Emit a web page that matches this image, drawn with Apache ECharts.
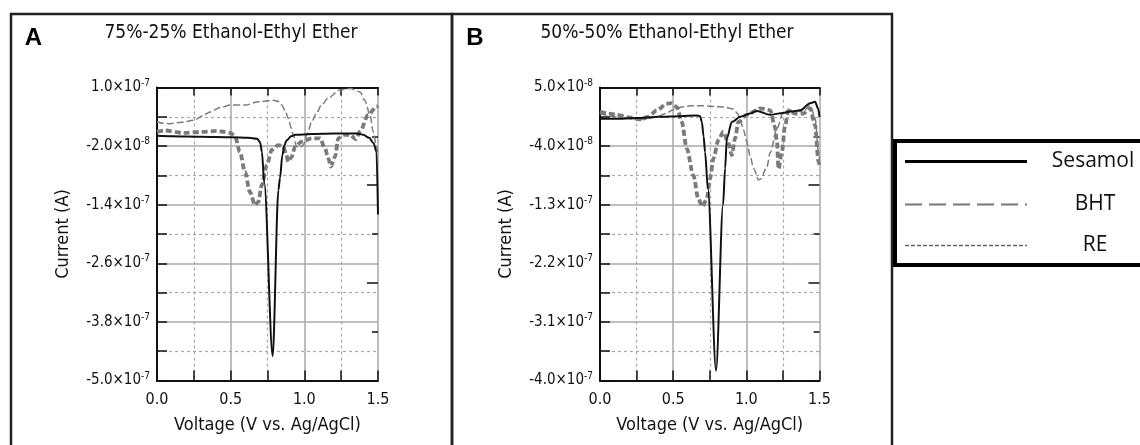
<!DOCTYPE html>
<html><head><meta charset="utf-8">
<script src="https://cdn.jsdelivr.net/npm/echarts@6/dist/echarts.min.js"></script>
<style>html,body{margin:0;padding:0;background:#fff}#c{width:1140px;height:445px}</style>
</head><body><div id="c"></div>
<script>
// ---- data (Voltage V, Current A) ----
const seriesNames = ['Sesamol', 'BHT', 'RE'];
const panelTitles = ['75%-25% Ethanol-Ethyl Ether', '50%-50% Ethanol-Ethyl Ether'];
const panelLetters = ['A', 'B'];
const xTickLabels = ['0.0', '0.5', '1.0', '1.5'];
const yTickLabelsA = ['-5.0×10{s|-7}', '-3.8×10{s|-7}', '-2.6×10{s|-7}', '-1.4×10{s|-7}', '-2.0×10{s|-8}', '1.0×10{s|-7}'];
const yTickLabelsB = ['-4.0×10{s|-7}', '-3.1×10{s|-7}', '-2.2×10{s|-7}', '-1.3×10{s|-7}', '-4.0×10{s|-8}', '5.0×10{s|-8}'];

const sesamolA = [[0,0.1e-8],[0.1,0],[0.3,-0.1e-8],[0.5,-0.2e-8],[0.62,-0.3e-8],[0.68,-0.5e-8],[0.70,-1.2e-8],[0.712,-3.2e-8],[0.728,-9.5e-8],[0.785,-45e-8],[0.824,-11e-8],[0.835,-8.5e-8],[0.851,-3.8e-8],[0.865,-1.8e-8],[0.88,-0.8e-8],[0.91,0],[0.94,0.3e-8],[1.05,0.5e-8],[1.2,0.6e-8],[1.36,0.6e-8],[1.40,0.3e-8],[1.44,-0.3e-8],[1.47,-1.4e-8],[1.49,-3.2e-8],[1.50,-16e-8]];
const bhtA = [[0,3.0e-8],[0.04,2.7e-8],[0.09,2.6e-8],[0.17,2.9e-8],[0.25,3.3e-8],[0.31,4.2e-8],[0.36,5.0e-8],[0.43,5.9e-8],[0.50,6.4e-8],[0.60,6.4e-8],[0.69,7.1e-8],[0.79,7.4e-8],[0.82,7.2e-8],[0.847,6.4e-8],[0.87,5.2e-8],[0.891,3.7e-8],[0.91,1.8e-8],[0.925,0.3e-8],[0.948,-2.1e-8],[0.97,-2.3e-8],[0.993,-1.8e-8],[1.02,0.5e-8],[1.05,3.0e-8],[1.08,4.6e-8],[1.115,6.3e-8],[1.16,7.8e-8],[1.24,9.5e-8],[1.31,9.8e-8],[1.378,9.1e-8],[1.41,7.4e-8],[1.446,4.4e-8],[1.468,0.9e-8],[1.49,-2e-8],[1.5,-4e-8]];
const reA = [[0,0.9e-8],[0.05,1.2e-8],[0.18,0.7e-8],[0.3,0.9e-8],[0.405,1.1e-8],[0.46,0.9e-8],[0.50,0.7e-8],[0.53,-0.1e-8],[0.563,-3.2e-8],[0.597,-7.3e-8],[0.631,-11.4e-8],[0.665,-14.1e-8],[0.688,-13.4e-8],[0.711,-10e-8],[0.745,-5.9e-8],[0.779,-2.8e-8],[0.824,-1.8e-8],[0.857,-2.1e-8],[0.878,-3.8e-8],[0.891,-5.2e-8],[0.914,-4.2e-8],[0.937,-2.1e-8],[0.982,-1.1e-8],[1.05,-0.4e-8],[1.107,-0.4e-8],[1.14,-2.5e-8],[1.163,-4.5e-8],[1.179,-6.2e-8],[1.208,-4.2e-8],[1.231,-0.4e-8],[1.265,0.3e-8],[1.31,0.3e-8],[1.35,-0.6e-8],[1.378,1.0e-8],[1.434,4.4e-8],[1.49,6.1e-8],[1.5,6.3e-8]];

const sesamolB = [[0,0.2e-8],[0.1,0.2e-8],[0.25,0.3e-8],[0.4,0.5e-8],[0.55,0.6e-8],[0.66,0.7e-8],[0.684,0.6e-8],[0.696,-0.3e-8],[0.708,-2.5e-8],[0.718,-4.9e-8],[0.737,-10.5e-8],[0.793,-38.5e-8],[0.841,-13e-8],[0.855,-7.4e-8],[0.867,-2.8e-8],[0.901,-0.3e-8],[0.958,0.5e-8],[1.026,1.0e-8],[1.072,1.4e-8],[1.163,0.8e-8],[1.25,1.1e-8],[1.30,1.3e-8],[1.368,1.5e-8],[1.436,2.6e-8],[1.47,2.8e-8],[1.49,1.8e-8],[1.5,0.5e-8]];
const bhtB = [[0,1.0e-8],[0.08,0.6e-8],[0.16,0.3e-8],[0.30,0.1e-8],[0.39,0.5e-8],[0.45,1.0e-8],[0.50,1.6e-8],[0.56,2.0e-8],[0.62,2.2e-8],[0.70,2.2e-8],[0.775,2.1e-8],[0.843,2.0e-8],[0.912,1.7e-8],[0.94,1.0e-8],[0.958,0.1e-8],[0.98,-1.5e-8],[1.003,-3.3e-8],[1.026,-5.5e-8],[1.049,-7.4e-8],[1.083,-9.2e-8],[1.10,-9.0e-8],[1.14,-7.2e-8],[1.163,-5.0e-8],[1.209,-1.3e-8],[1.254,1.3e-8],[1.30,1.5e-8],[1.39,1.3e-8],[1.436,2.3e-8],[1.47,0.3e-8],[1.493,-4.9e-8],[1.5,-6e-8]];
const reB = [[0,1.3e-8],[0.06,1.0e-8],[0.114,0.8e-8],[0.2,0.4e-8],[0.274,0.1e-8],[0.33,0.5e-8],[0.388,1.5e-8],[0.456,2.5e-8],[0.49,2.6e-8],[0.525,2.0e-8],[0.559,-0.3e-8],[0.593,-4.4e-8],[0.638,-8.5e-8],[0.672,-12.1e-8],[0.70,-13.3e-8],[0.73,-12.1e-8],[0.752,-9.0e-8],[0.775,-5.9e-8],[0.809,-3.1e-8],[0.843,-1.8e-8],[0.878,-3.6e-8],[0.901,-5.4e-8],[0.923,-2.8e-8],[0.946,-0.3e-8],[1.003,0.8e-8],[1.072,1.5e-8],[1.094,1.8e-8],[1.163,1.5e-8],[1.195,-1e-8],[1.209,-3.3e-8],[1.22,-7.5e-8],[1.243,-4.9e-8],[1.265,-0.8e-8],[1.288,1.5e-8],[1.334,1.0e-8],[1.39,1.0e-8],[1.436,1.8e-8],[1.47,-0.8e-8],[1.493,-6.4e-8],[1.5,-7e-8]];

// ---- chart ----
const chart = echarts.init(document.getElementById('c'), null, {renderer: 'canvas'});
const FC = '"DejaVu Sans Condensed", "DejaVu Sans", sans-serif';
const gridColor = '#a8a8a8';

function xAxes(gi) {
  return [{
    gridIndex: gi, type: 'value', position: 'bottom', min: 0, max: 1.5, interval: 0.5,
    axisLine: {show: true, onZero: false, lineStyle: {color: '#111', width: 2}},
    axisTick: {show: true, inside: true, length: 10, lineStyle: {color: '#111', width: 1.5}},
    minorTick: {show: true, splitNumber: 2, length: 10, lineStyle: {color: '#111', width: 1.5}},
    splitLine: {show: true, lineStyle: {color: gridColor, width: 1.5}},
    minorSplitLine: {show: true, lineStyle: {color: gridColor, width: 1.2, type: [3, 3]}},
    axisLabel: {show: true, margin: 11, color: '#111', fontFamily: FC, fontSize: 16,
      formatter: (v, i) => xTickLabels[i]},
    name: 'Voltage (V vs. Ag/AgCl)', nameLocation: 'middle', nameGap: 36,
    nameTextStyle: {color: '#111', fontFamily: FC, fontSize: 18}
  }, {
    gridIndex: gi, type: 'value', position: 'top', min: 0, max: 1.5, interval: 0.5,
    axisLine: {show: true, onZero: false, lineStyle: {color: '#111', width: 2}},
    axisTick: {show: true, inside: true, length: 8, lineStyle: {color: '#111', width: 1.5}},
    minorTick: {show: true, splitNumber: 2, length: 8, lineStyle: {color: '#111', width: 1.5}},
    splitLine: {show: false}, axisLabel: {show: false}
  }];
}
function yAxes(gi, mn, mx, iv, labels) {
  return [{
    gridIndex: gi, type: 'value', position: 'left', min: mn, max: mx, interval: iv,
    axisLine: {show: true, onZero: false, lineStyle: {color: '#111', width: 2}},
    axisTick: {show: true, inside: true, length: 10, lineStyle: {color: '#111', width: 1.5}},
    minorTick: {show: true, splitNumber: 2, length: 10, lineStyle: {color: '#111', width: 1.5}},
    splitLine: {show: true, lineStyle: {color: gridColor, width: 1.5}},
    minorSplitLine: {show: true, lineStyle: {color: gridColor, width: 1.2, type: [3, 3]}},
    axisLabel: {show: true, margin: 7, color: '#111', fontFamily: FC, fontSize: 15,
      formatter: (v, i) => labels[i],
      rich: {s: {fontSize: 10, fontFamily: FC, color: '#111', padding: [0, 0, 9, 0]}}},
    name: 'Current (A)', nameLocation: 'middle', nameGap: 85, nameRotate: 90,
    nameTextStyle: {color: '#111', fontFamily: FC, fontSize: 18}
  }, {
    gridIndex: gi, type: 'value', position: 'right', min: 0, max: 6, interval: 2,
    axisLine: {show: false, onZero: false},
    axisTick: {show: true, inside: true, length: 11, lineStyle: {color: '#111', width: 1.5}},
    minorTick: {show: true, splitNumber: 2, length: 6, lineStyle: {color: '#111', width: 1.5}},
    splitLine: {show: false}, axisLabel: {show: false}
  }];
}

const styles = {
  Sesamol: {color: '#111', width: 2, type: 'solid'},
  BHT: {color: '#7c7c7c', width: 1.5, type: [7, 3]},
  RE: {color: '#7a7a7a', width: 3.8, type: [6, 3]}
};
function mk(name, data, gi) {
  const s = styles[name];
  return {
    name: name, type: 'line', xAxisIndex: gi * 2, yAxisIndex: gi * 2, data: data,
    showSymbol: false, symbol: 'none', smooth: 0.3, smoothMonotone: 'x',
    lineStyle: {color: s.color, width: s.width, type: s.type}, silent: true, animation: false,
    z: name === 'Sesamol' ? 5 : 3
  };
}

const legendY = [161.5, 204.5, 245.5];
const legendText = [];
seriesNames.forEach((n, i) => {
  legendText.push({type: 'line', shape: {x1: 905, y1: legendY[i], x2: 1027, y2: legendY[i]},
    style: {stroke: i === 0 ? '#000' : (i === 1 ? '#777' : '#666'), lineWidth: [3, 2, 1.5][i],
      lineDash: i === 0 ? null : (i === 1 ? [17, 7] : [4, 2])}, z: 20});
  legendText.push({type: 'text', x: [1093, 1095, 1095][i], y: legendY[i],
    style: {text: n, fill: '#111', font: '21px "Open Sans", sans-serif', align: 'center', verticalAlign: 'middle',
      textAlign: 'center', textVerticalAlign: 'middle'}, z: 21});
});

const option = {
  animation: false,
  backgroundColor: '#fff',
  grid: [
    {left: 157, top: 87.5, width: 221, height: 293},
    {left: 600, top: 87.5, width: 219.5, height: 293}
  ],
  xAxis: [...xAxes(0), ...xAxes(1)],
  yAxis: [...yAxes(0, -5e-7, 1e-7, 1.2e-7, yTickLabelsA), ...yAxes(1, -4e-7, 5e-8, 9e-8, yTickLabelsB)],
  series: [
    mk('BHT', bhtA, 0), mk('RE', reA, 0), mk('Sesamol', sesamolA, 0),
    mk('BHT', bhtB, 1), mk('RE', reB, 1), mk('Sesamol', sesamolB, 1)
  ],
  graphic: [
    {type: 'rect', shape: {x: 11, y: 14, width: 441, height: 470}, style: {fill: 'none', stroke: '#222', lineWidth: 2.5}, z: 10, silent: true},
    {type: 'rect', shape: {x: 452, y: 14, width: 440, height: 470}, style: {fill: 'none', stroke: '#222', lineWidth: 2.5}, z: 10, silent: true},
    {type: 'rect', shape: {x: 895, y: 141, width: 270, height: 124}, style: {fill: '#fff', stroke: '#000', lineWidth: 4}, z: 15, silent: true},
    {type: 'text', x: 33.5, y: 38, style: {text: panelLetters[0], fill: '#000', font: 'bold 24px "Liberation Sans", Arial, sans-serif', align: 'center', verticalAlign: 'middle', textAlign: 'center', textVerticalAlign: 'middle'}},
    {type: 'text', x: 475, y: 38, style: {text: panelLetters[1], fill: '#000', font: 'bold 24px "Liberation Sans", Arial, sans-serif', align: 'center', verticalAlign: 'middle', textAlign: 'center', textVerticalAlign: 'middle'}},
    {type: 'text', x: 231, y: 33, style: {text: panelTitles[0], fill: '#111', font: '19px "DejaVu Sans Condensed", sans-serif', align: 'center', verticalAlign: 'middle', textAlign: 'center', textVerticalAlign: 'middle'}},
    {type: 'text', x: 667, y: 33, style: {text: panelTitles[1], fill: '#111', font: '19px "DejaVu Sans Condensed", sans-serif', align: 'center', verticalAlign: 'middle', textAlign: 'center', textVerticalAlign: 'middle'}},
    ...legendText
  ]
};
chart.setOption(option);
</script></body></html>
